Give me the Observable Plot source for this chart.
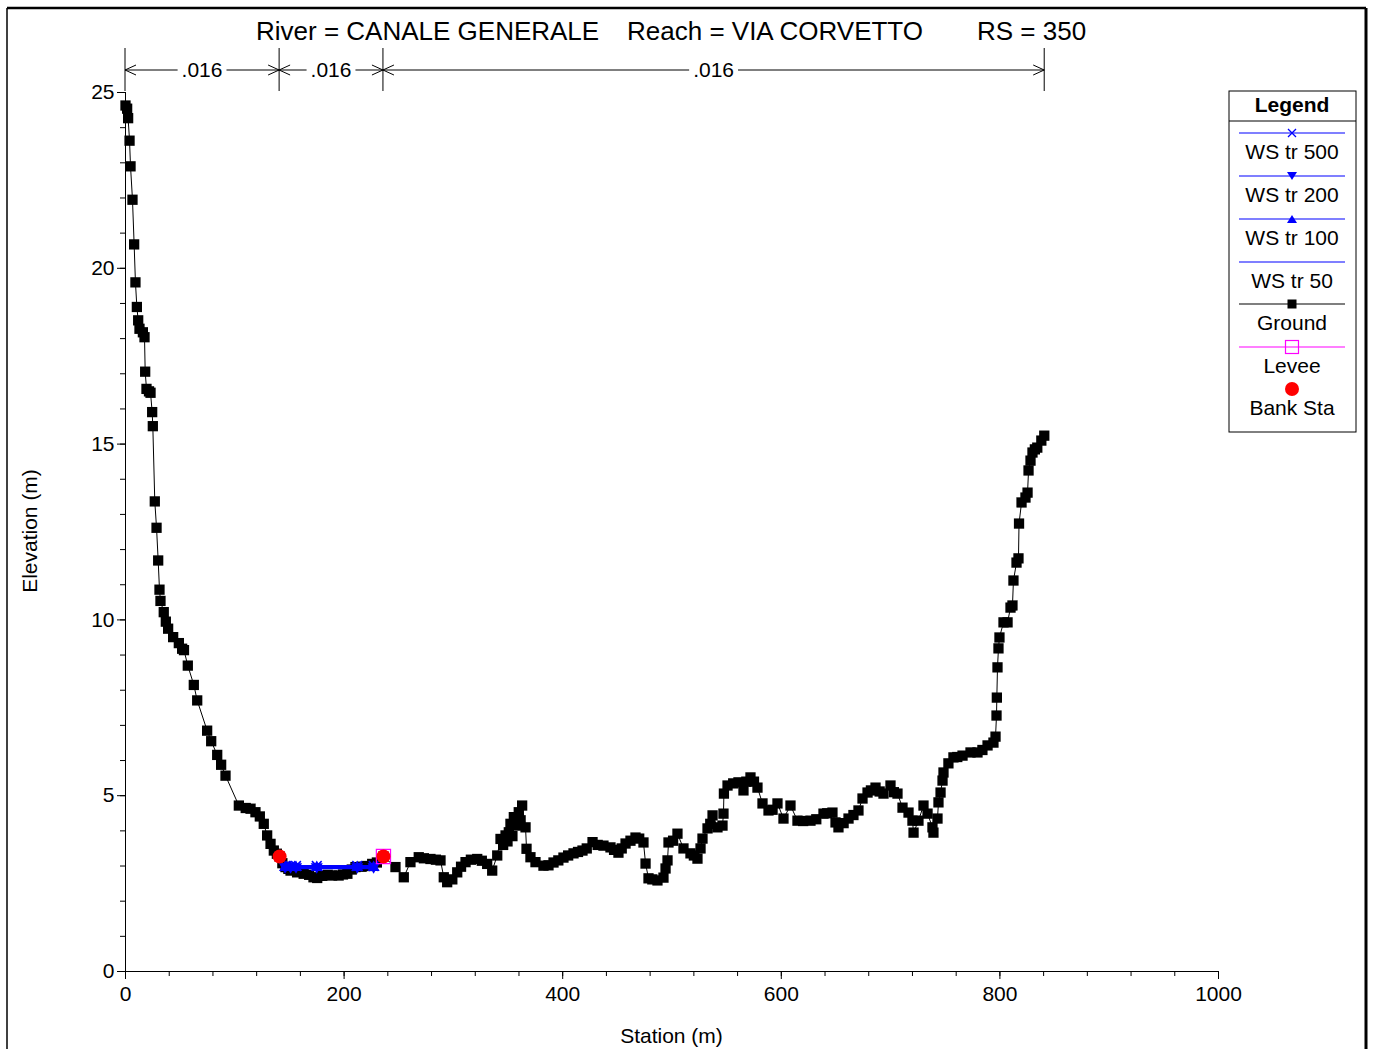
<!DOCTYPE html>
<html><head><meta charset="utf-8">
<script src="https://cdn.jsdelivr.net/npm/d3@7"></script>
<script src="https://cdn.jsdelivr.net/npm/@observablehq/plot@0.6"></script>
<style>
html,body{margin:0;padding:0;background:#fff;overflow:hidden;}
#chart{position:relative;width:1374px;height:1049px;}
svg text{font-family:"Liberation Sans",Arial,sans-serif;}
</style></head><body><div id="chart"></div>
<script>
// ---- data ----
const titleParts = ["River = CANALE GENERALE", "Reach = VIA CORVETTO", "RS = 350"];
const ground = [
[0,24.63],[1.5,24.54],[2.4,24.27],[3.7,23.63],[4.6,22.9],[6.4,21.95],[7.9,20.68],[9.1,19.6],[10.4,18.9],[11.6,18.52],[12.8,18.28],[15.9,18.18],[17.4,18.04],[18.0,17.06],[19.2,16.57],[21.5,16.5],[22.9,16.46],[24.4,15.91],[25.0,15.51],
[26.8,13.37],[28.4,12.62],[29.9,11.69],[31.1,10.86],[32.0,10.54],[35.0,10.22],[36.9,9.95],[39.0,9.75],[43.6,9.51],[48.8,9.34],[51.8,9.18],[53.5,9.14],[57.0,8.7],[62.5,8.15],[65.6,7.71],[74.7,6.85],[78.4,6.55],[83.9,6.16],[87.5,5.88],[91.5,5.57],[103.7,4.72],[110,4.65],[114.4,4.63],[118.9,4.53],[122.9,4.41],[126.5,4.2],[129.6,3.87],[132.7,3.63],[135.7,3.44],[138.5,3.35],[141.0,3.27],
[143.5,3.08],[146.4,2.97],[149,2.92],[151,2.87],[154,2.9],[157,2.82],[160,2.85],[163,2.78],[168,2.75],[172,2.68],[175.4,2.66],[180,2.72],[185,2.75],[189,2.73],[195,2.73],[199,2.76],[203,2.78],[207,2.9],[210.4,2.97],[216,2.98],[221,3.0],[225.7,3.06],[230,3.1],[236,3.27],
[247,2.97],[254.6,2.68],[260.7,3.11],[268.3,3.25],[273,3.22],[279,3.2],[284,3.18],[288.2,3.16],[291.2,2.68],[294.3,2.54],[299,2.62],[303.5,2.82],[307,2.98],[311.1,3.11],[316,3.18],[321.8,3.2],[326,3.15],[330.9,3.06],[335.5,2.87],[340.1,3.3],[343.1,3.77],[345.5,3.6],[347.7,3.87],[349.5,3.7],[350.7,3.96],[352.2,4.2],[354,3.85],[355.3,4.39],[357.5,4.15],[359.8,4.53],[361.5,4.3],[362.9,4.72],[366,4.1],[366.9,3.49],[370.5,3.25],[375.1,3.11],
[382.4,3.01],[387,3.02],[391.6,3.10],[396,3.16],[400.7,3.24],[405,3.3],[409.9,3.36],[414,3.4],[418.1,3.44],[422,3.5],[427.3,3.68],[432,3.6],[437.3,3.58],[443.7,3.53],[447,3.46],[451,3.38],[454,3.5],[457.5,3.64],[462,3.72],[466.6,3.81],[470,3.78],[473.9,3.67],[475.8,3.07],[478.5,2.65],[482,2.62],[486.7,2.59],[492.2,2.67],[494.1,2.93],[495.9,3.16],[496.8,3.67],[501,3.72],[505,3.92],[510.5,3.5],[516.9,3.36],[520,3.3],[523.3,3.21],[526.1,3.5],[527.9,3.78],[532.5,4.07],[535,4.2],[537.1,4.44],[541.6,4.1],[546.2,4.15],[547.1,4.49],[547.5,5.06],[550.8,5.29],[556,5.35],[560.8,5.38],[565.4,5.15],[568,5.4],[571.8,5.52],[575,5.4],[578.2,5.23],[582.8,4.78],[588.3,4.58],[592,4.6],[596.5,4.78],[602,4.35],[608.4,4.72],[614.8,4.29],[620,4.28],[626.7,4.29],[632,4.33],[638.6,4.49],[642,4.5],[646.8,4.52],[649.6,4.24],[652.3,4.1],[657,4.22],[661.5,4.35],[666,4.45],[670.6,4.58],[674.3,4.92],[678.9,5.09],[682,5.15],[686.2,5.23],[690,5.12],[693.5,5.06],[699.9,5.29],[703,5.1],[706.3,5.06],[710.9,4.66],[716.4,4.52],[720,4.29],[721,3.95],[725.5,4.29],[730.1,4.72],[733.8,4.49],[738.3,4.1],[739.2,3.95],[742.9,4.35],[743.8,4.81],[745.7,5.09],[747.5,5.43],[748.4,5.66],[752.9,5.92],[757.5,6.09],[761,6.1],[765.8,6.14],[773.1,6.23],[779.5,6.23],[784,6.3],[788.7,6.43],[794.1,6.51],[796,6.68],[796.9,7.28],[797.2,7.79],[797.8,8.65],[798.7,9.19],[799.6,9.5],[803.3,9.93],[807,9.93],[809.7,10.35],[811.5,10.41],[812.4,11.12],[815.2,11.63],[817,11.75],[817.5,12.74],[819.8,13.34],[823.4,13.48],[825.3,13.62],[826.2,14.25],[828,14.53],[829.8,14.76],[832,14.85],[834.2,14.9],[837.9,15.1],[840.6,15.24]
];
const bankStation = [141, 236];
const bankElevation = [3.27, 3.27];
const leveeStation = [236];
const leveeElevation = [3.27];
const wsProfiles = ["WS tr 500", "WS tr 200", "WS tr 100", "WS tr 50"];
const wsElevation = [3.00, 2.98, 2.96, 2.94];
const wsLeftStation = [143.5, 143.5, 144, 144];
const wsRightStation = [228, 227, 227, 226];
const wsMarkerStations = [146, 151, 156, 175, 212, 227];
const nBoundaries = [0, 141, 236, 841];
const nValues = [".016", ".016", ".016"];
const xMajorTicks = [0, 200, 400, 600, 800, 1000];
const xMinorTicks = d3.range(0, 1001, 40);
const yMajorTicks = [0, 5, 10, 15, 20, 25];
const yMinorTicks = d3.range(0, 26, 1);
const legendLabels = ["WS tr 500", "WS tr 200", "WS tr 100", "WS tr 50", "Ground", "Levee", "Bank Sta"];

// ---- derived tables ----
const groundRows = ground.map(([s, e]) => ({s, e}));
const wsRows = wsProfiles.flatMap((p, i) => [
  {p, s: wsLeftStation[i], e: wsElevation[i]},
  {p, s: wsRightStation[i], e: wsElevation[i]}
]);
const wsMarkers = (k) => wsMarkerStations.map(s => ({s, e: wsElevation[k]}));
const banks = bankStation.map((s, i) => ({s, e: bankElevation[i]}));
const levees = leveeStation.map((s, i) => ({s, e: leveeElevation[i]}));

const BLUE = "#0000ff";
const FONT = "Liberation Sans, Arial, sans-serif";

const plot = Plot.plot({
  width: 1374, height: 1049,
  marginLeft: 125, marginRight: 156, marginTop: 92, marginBottom: 78,
  x: {domain: [0, 1000]},
  y: {domain: [0, 25]},
  style: {fontFamily: FONT, fontSize: "21px", background: "white", color: "black", overflow: "visible"},
  marks: [
    Plot.axisX({ticks: xMinorTicks, tickSize: 5, tickFormat: () => "", label: null}),
    Plot.axisX({ticks: xMajorTicks, tickSize: 8, tickPadding: 7, tickFormat: d => String(d), label: null, fontSize: 21}),
    Plot.axisY({ticks: yMinorTicks, tickSize: 5, tickFormat: () => "", label: null}),
    Plot.axisY({ticks: yMajorTicks, tickSize: 8, tickPadding: 3, tickFormat: d => String(d), label: null, fontSize: 21}),
    Plot.ruleY([0], {x1: 0, x2: 1000, stroke: "black"}),
    Plot.ruleX([0], {y1: 0, y2: 25, stroke: "black"}),
    Plot.line(groundRows, {x: "s", y: "e", stroke: "black", strokeWidth: 1}),
    Plot.dot(groundRows, {x: "s", y: "e", symbol: "square", r: 5.8, fill: "black", stroke: "none"}),
    Plot.line(wsRows, {x: "s", y: "e", z: "p", stroke: BLUE, strokeWidth: 2}),
    Plot.dot(wsMarkers(0), {x: "s", y: "e", symbol: "times", r: 4.5, stroke: BLUE, strokeWidth: 1.5}),
    Plot.dot(wsMarkers(1), {x: "s", y: "e", symbol: "triangle", rotate: 180, r: 4.5, fill: BLUE, stroke: "none"}),
    Plot.dot(wsMarkers(2), {x: "s", y: "e", symbol: "triangle", r: 4.5, fill: BLUE, stroke: "none"}),
    Plot.dot(levees, {x: "s", y: "e", symbol: "square", r: 8, fill: "none", stroke: "#ff00ff", strokeWidth: 1.2}),
    Plot.dot(banks, {x: "s", y: "e", r: 7, fill: "#ff0000", stroke: "none"})
  ]
});

document.getElementById("chart").appendChild(plot);

const svg = d3.select(plot);
const sx = plot.scale("x");
const X = v => sx.apply(v);

// frame
svg.append("line").attr("x1", 7).attr("x2", 1366).attr("y1", 8).attr("y2", 8).attr("stroke", "black").attr("stroke-width", 2.5);
svg.append("line").attr("x1", 7).attr("x2", 7).attr("y1", 8).attr("y2", 1060).attr("stroke", "black").attr("stroke-width", 1.5);
svg.append("line").attr("x1", 1366).attr("x2", 1366).attr("y1", 8).attr("y2", 1060).attr("stroke", "black").attr("stroke-width", 3);

// title
const titleX = [256, 627, 977];
titleParts.forEach((t, i) => {
  svg.append("text").attr("x", titleX[i]).attr("y", 40).attr("text-anchor", "start").attr("font-size", 26).attr("font-family", FONT).attr("fill", "black").text(t);
});

// axis labels
svg.append("text").attr("x", X(500)).attr("y", 1043).attr("text-anchor", "middle").attr("font-size", 21).attr("font-family", FONT).text("Station (m)");
svg.append("text").attr("transform", "translate(37,531) rotate(-90)").attr("text-anchor", "middle").attr("font-size", 21).attr("font-family", FONT).text("Elevation (m)");

// Manning's n annotation
const nY = 70;
const g = svg.append("g").attr("stroke", "black").attr("fill", "none").attr("stroke-width", 1);
nBoundaries.forEach(b => {
  g.append("line").attr("x1", X(b)).attr("x2", X(b)).attr("y1", 48).attr("y2", 91);
});
function head(px, dir) {
  g.append("path").attr("d", `M${px - dir * 11},${nY - 5}L${px},${nY}L${px - dir * 11},${nY + 5}`);
}
nValues.forEach((v, i) => {
  const a = X(nBoundaries[i]), b = X(nBoundaries[i + 1]);
  const mid = (a + b) / 2;
  const t = svg.append("text").attr("x", mid).attr("y", nY + 7).attr("text-anchor", "middle")
    .attr("font-size", 21).attr("font-family", FONT).text(v);
  const w = t.node().getComputedTextLength();
  g.append("line").attr("x1", a).attr("x2", mid - w / 2 - 4).attr("y1", nY).attr("y2", nY);
  g.append("line").attr("x1", mid + w / 2 + 4).attr("x2", b).attr("y1", nY).attr("y2", nY);
  head(a, -1); head(b, 1);
});

// legend
const L = svg.append("g");
L.append("rect").attr("x", 1229).attr("y", 91).attr("width", 127).attr("height", 341).attr("fill", "white").attr("stroke", "black").attr("stroke-width", 1);
L.append("line").attr("x1", 1229).attr("x2", 1356).attr("y1", 121).attr("y2", 121).attr("stroke", "black");
L.append("text").attr("x", 1292).attr("y", 112).attr("text-anchor", "middle").attr("font-size", 21).attr("font-weight", "bold").attr("font-family", FONT).text("Legend");
const lineY = [133, 176, 219, 262, 304, 347, 389];
const lineColors = [BLUE, BLUE, BLUE, BLUE, "black", "#ff00ff", null];
legendLabels.forEach((lab, i) => {
  const y = lineY[i], cx = 1292;
  if (lineColors[i]) L.append("line").attr("x1", 1239).attr("x2", 1345).attr("y1", y).attr("y2", y).attr("stroke", lineColors[i]).attr("stroke-width", 1.2);
  if (i === 0) L.append("path").attr("d", `M${cx-4},${y-4}L${cx+4},${y+4}M${cx-4},${y+4}L${cx+4},${y-4}`).attr("stroke", BLUE).attr("stroke-width", 1.3);
  if (i === 1) L.append("path").attr("d", `M${cx-5},${y-4}L${cx+5},${y-4}L${cx},${y+4}Z`).attr("fill", BLUE);
  if (i === 2) L.append("path").attr("d", `M${cx-5},${y+4}L${cx+5},${y+4}L${cx},${y-4}Z`).attr("fill", BLUE);
  if (i === 4) L.append("rect").attr("x", cx - 4.5).attr("y", y - 4.5).attr("width", 9).attr("height", 9).attr("fill", "black");
  if (i === 5) L.append("rect").attr("x", cx - 6.5).attr("y", y - 6.5).attr("width", 13).attr("height", 13).attr("fill", "none").attr("stroke", "#ff00ff").attr("stroke-width", 1.2);
  if (i === 6) L.append("circle").attr("cx", cx).attr("cy", y).attr("r", 7).attr("fill", "#ff0000");
  L.append("text").attr("x", cx).attr("y", y + 26).attr("text-anchor", "middle").attr("font-size", 21).attr("font-family", FONT).text(lab);
});
</script></body></html>
